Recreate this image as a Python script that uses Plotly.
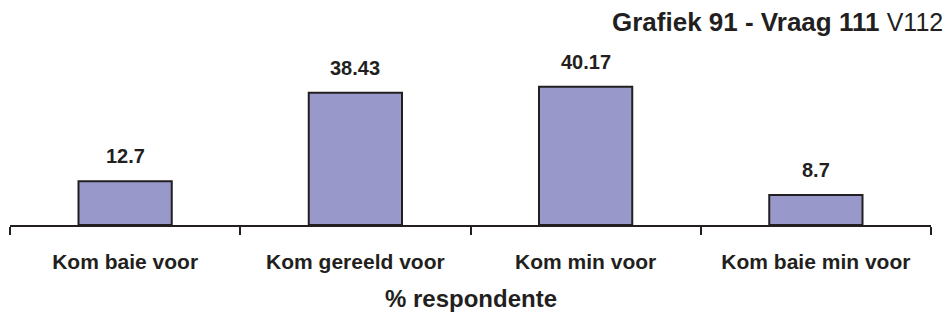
import plotly.graph_objects as go

categories = ["Kom baie voor", "Kom gereeld voor", "Kom min voor", "Kom baie min voor"]
values = [12.7, 38.43, 40.17, 8.7]
value_labels = ["12.7", "38.43", "40.17", "8.7"]

FONT = "Liberation Sans, Arial, sans-serif"
INK = "#231F20"

fig = go.Figure(
    go.Bar(
        x=categories,
        y=values,
        width=0.405,
        marker=dict(color="#9898CA", line=dict(color=INK, width=2)),
        hoverinfo="skip",
    )
)

# value labels above each bar
for cat, val, lab in zip(categories, values, value_labels):
    fig.add_annotation(
        x=cat, y=val, text=f"<b>{lab}</b>", showarrow=False,
        yanchor="bottom", yshift=12,
        font=dict(family=FONT, size=20, color=INK),
    )

# axis title
fig.add_annotation(
    xref="paper", yref="paper", x=0.5, y=0, yshift=-73,
    text="<b>% respondente</b>", showarrow=False, yanchor="middle",
    font=dict(family=FONT, size=24, color=INK),
)

# chart title
fig.add_annotation(
    xref="paper", yref="paper", x=1, y=1, yshift=18, xshift=14,
    xanchor="right", yanchor="middle",
    text="<b>Grafiek 91 - Vraag 111</b> <span style='font-size:25px'>V112</span>",
    showarrow=False,
    font=dict(family=FONT, size=26, color=INK),
)

fig.update_layout(
    width=947, height=320,
    margin=dict(l=10, r=16, t=40, b=95),
    plot_bgcolor="white", paper_bgcolor="white",
    showlegend=False,
    xaxis=dict(
        type="category",
        tickson="boundaries",
        ticks="outside", ticklen=8, tickwidth=2, tickcolor=INK,
        showline=True, linewidth=2, linecolor=INK,
        showgrid=False,
        tickfont=dict(family=FONT, size=21, color=INK),
        tickprefix="<b>", ticksuffix="</b>",
        ticklabelstandoff=17,
    ),
    yaxis=dict(
        range=[0, 53.8], visible=False, showgrid=False, zeroline=False,
    ),
)

fig.write_html("out.html")
